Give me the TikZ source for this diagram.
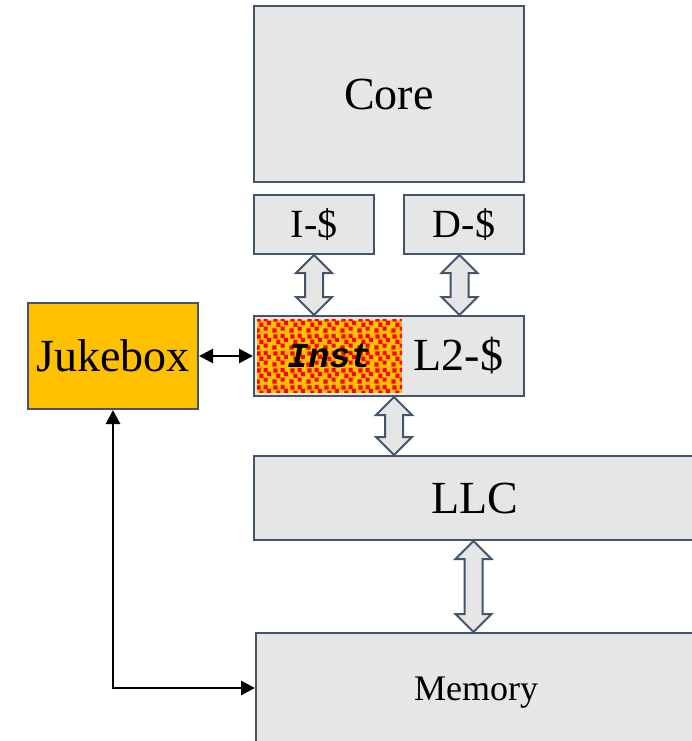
\documentclass[tikz,border=0pt]{standalone}
\usepackage{fontspec}
\setmainfont{Liberation Serif}
\setmonofont{Liberation Mono}
\usetikzlibrary{positioning,calc,arrows.meta,patterns.meta}

\definecolor{boxgray}{HTML}{E6E6E6}
\definecolor{boxline}{HTML}{44546A}
\definecolor{jukeorange}{HTML}{FFC000}

\pgfdeclarepattern{
  name=confetti,
  type=uncolored,
  bottom left={\pgfpoint{0pt}{0pt}},
  top right={\pgfpoint{17pt}{17pt}},
  tile size={\pgfpoint{17pt}{17pt}},
  code={
    \pgfpathrectangle{\pgfpoint{0.5pt}{0.5pt}}{\pgfpoint{4.3pt}{4.3pt}}
    \pgfpathrectangle{\pgfpoint{9pt}{2.5pt}}{\pgfpoint{4.3pt}{4.3pt}}
    \pgfpathrectangle{\pgfpoint{4.5pt}{6.5pt}}{\pgfpoint{4.3pt}{4.3pt}}
    \pgfpathrectangle{\pgfpoint{12.5pt}{8.5pt}}{\pgfpoint{4.3pt}{4.3pt}}
    \pgfpathrectangle{\pgfpoint{1.5pt}{12pt}}{\pgfpoint{4.3pt}{4.3pt}}
    \pgfpathrectangle{\pgfpoint{9pt}{12.5pt}}{\pgfpoint{4.3pt}{4.3pt}}
    \pgfusepath{fill}
  }
}

\tikzset{
  box/.style={draw=boxline, fill=boxgray, line width=2pt, inner sep=0pt, font=\fontsize{46}{50}\selectfont},
  cachebox/.style={box, minimum width=120pt, minimum height=59pt, font=\fontsize{40}{44}\selectfont},
  jukebox/.style={box, fill=jukeorange, minimum width=170pt, minimum height=106pt},
  instbox/.style={inner sep=0pt, minimum width=145pt, minimum height=73pt, preaction={fill=jukeorange}, pattern=confetti, pattern color=red, font=\fontsize{35}{38}\selectfont\ttfamily\bfseries\itshape},
  blockarrow/.style={draw=boxline, fill=boxgray, line width=2pt, line join=miter},
  link/.style={line width=2.8pt, {Triangle[length=14pt,width=14pt]}-{Triangle[length=14pt,width=14pt]}}
}

% block arrow between two nodes: #1 = x, #2 = upper node, #3 = lower node
\newcommand\bothways[3]{%
  \draw[blockarrow] let \p1=(#2.south), \p2=(#3.north) in
    (#1pt,\y1) -- (#1pt+18pt,\y1-18pt) -- (#1pt+9pt,\y1-18pt) -- (#1pt+9pt,\y2+18pt)
    -- (#1pt+18pt,\y2+18pt) -- (#1pt,\y2) -- (#1pt-18pt,\y2+18pt) -- (#1pt-9pt,\y2+18pt)
    -- (#1pt-9pt,\y1-18pt) -- (#1pt-18pt,\y1-18pt) -- cycle;}

\begin{document}
\begin{tikzpicture}[x=1pt, y=1pt, on grid]

\useasboundingbox (0,0) rectangle (692,-741);
\clip (0,0) rectangle (692,-741);

% Blocchi
\node [box, minimum width=270pt, minimum height=176pt] (core) at (389,-94) {Core};
\node [cachebox, below left=130.5pt and 75pt of core] (icache) {I-\$};
\node [cachebox, below right=130.5pt and 75pt of core] (dcache) {D-\$};
\node [box, minimum width=270pt, minimum height=80pt, text width=228pt, inner xsep=21pt, align=right, below=262pt of core] (ltwo) {L2-\$};
\node [instbox] (inst) at ($(ltwo.west)+(76.5,0)$) {Inst};
\node [jukebox, left=276pt of ltwo] (jukebox) {Jukebox};
\node [box, minimum width=442pt, minimum height=84pt, below right=142pt and 86pt of ltwo] (llc) {LLC};
\node [box, minimum width=440pt, minimum height=120pt, font=\fontsize{36}{40}\selectfont, below right=337pt and 87pt of ltwo] (memory) {Memory};

% Collegamenti
\bothways{314}{icache}{ltwo}
\bothways{459.5}{dcache}{ltwo}
\bothways{394}{ltwo}{llc}
\bothways{473.5}{llc}{memory}
\draw [link] (jukebox.east) -- (ltwo.west);
\draw [link] (jukebox.south) |- ($(memory.west)+(0,5)$);

\end{tikzpicture}
\end{document}
